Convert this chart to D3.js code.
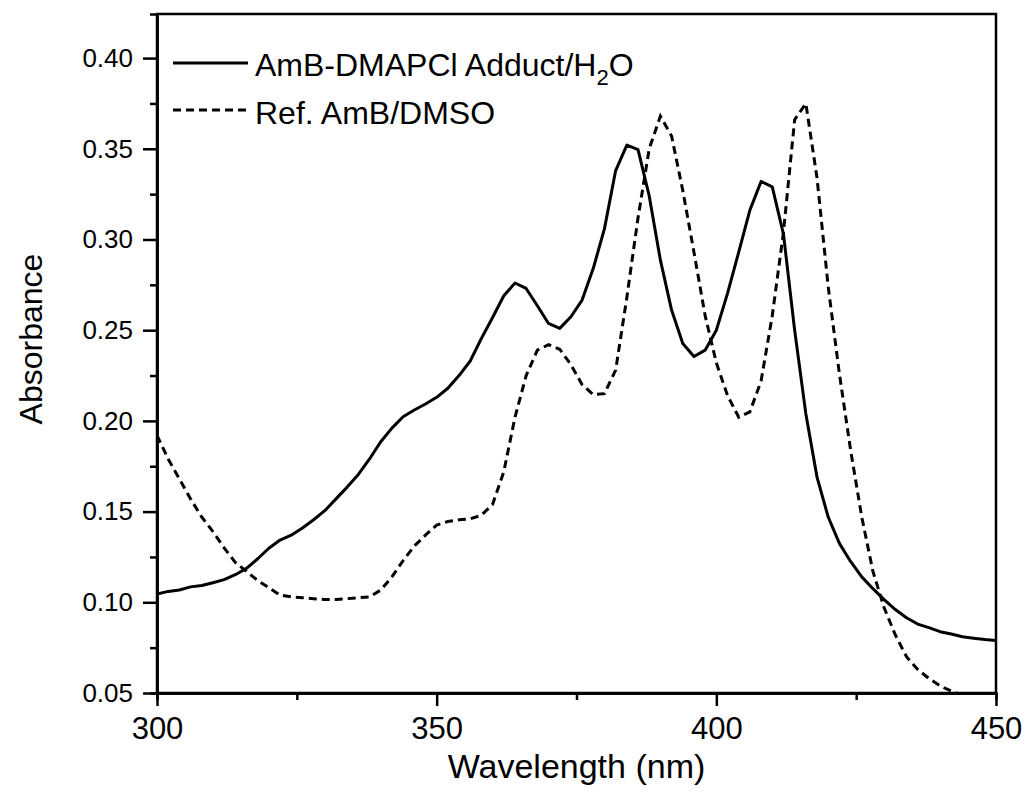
<!DOCTYPE html>
<html>
<head>
<meta charset="utf-8">
<script src="https://cdn.jsdelivr.net/npm/d3@7"></script>
<style>
  body { margin: 0; background: #fff; }
  text { font-family: Arial, "Liberation Sans", sans-serif; fill: #000; }
</style>
</head>
<body>
<svg id="chart"></svg>
<script>
// wavelength (nm), 2 nm steps
const wavelength = d3.range(300, 451, 2)

// AmB-DMAPCl adduct in water
const adduct = [
  0.1045, 0.1060, 0.1068, 0.1085, 0.1093, 0.1108, 0.1125, 0.1152, 0.1187, 0.1240,
  0.1298, 0.1343, 0.1370, 0.1410, 0.1455, 0.1505, 0.1570, 0.1635, 0.1705, 0.1790,
  0.1885, 0.1960, 0.2023, 0.2060, 0.2093, 0.2130, 0.2180, 0.2250, 0.2330, 0.2455,
  0.2570, 0.2690, 0.2760, 0.2730, 0.2635, 0.2537, 0.2510, 0.2574, 0.2666, 0.2841,
  0.3060, 0.3380, 0.3520, 0.3495, 0.3240, 0.2886, 0.2611, 0.2427, 0.2355, 0.2390,
  0.2500, 0.2703, 0.2930, 0.3162, 0.3320, 0.3290, 0.3030, 0.2500, 0.2040, 0.1690,
  0.1470, 0.1325, 0.1225, 0.1140, 0.1075, 0.1015, 0.0960, 0.0915, 0.0880, 0.0860,
  0.0838, 0.0825, 0.0810, 0.0802, 0.0795, 0.0790
]

// reference AmB in DMSO
const reference = [
  0.192, 0.179, 0.168, 0.157, 0.147, 0.139, 0.130, 0.122, 0.117, 0.112,
  0.108, 0.104, 0.103, 0.1025, 0.102, 0.1015, 0.1015, 0.102, 0.1025, 0.103,
  0.1067, 0.114, 0.123, 0.131, 0.137, 0.1426, 0.1445, 0.1455, 0.146, 0.148,
  0.154, 0.172, 0.202, 0.225, 0.239, 0.242, 0.2395, 0.231, 0.220, 0.2145,
  0.215, 0.228, 0.268, 0.312, 0.350, 0.368, 0.357, 0.327, 0.293, 0.258,
  0.232, 0.214, 0.202, 0.205, 0.222, 0.258, 0.304, 0.366, 0.375, 0.334,
  0.274, 0.226, 0.184, 0.147, 0.117, 0.097, 0.082, 0.070, 0.063, 0.058,
  0.054, 0.051, 0.049, 0.048, 0.047, 0.046
]

const xTicks = [300, 350, 400, 450]
const yTicks = [0.05, 0.10, 0.15, 0.20, 0.25, 0.30, 0.35, 0.40]

const width = 1028, height = 798
const margin = {top: 14, right: 32, bottom: 105, left: 157}

const svg = d3.select('#chart')
  .attr('width', width)
  .attr('height', height)

const iw = width - margin.left - margin.right
const ih = height - margin.top - margin.bottom

const chart = svg.append('g')
  .attr('transform', `translate(${margin.left},${margin.top})`)

const xscale = d3.scaleLinear().domain([300, 450]).range([0, iw])
const yscale = d3.scaleLinear().domain([0.05, 0.4243]).range([ih, 0])

chart.append('clipPath').attr('id', 'clip')
  .append('rect').attr('width', iw).attr('height', ih)

// minor ticks
const xMinor = d3.axisBottom(xscale).tickValues([325, 375, 425]).tickSize(7).tickFormat('')
const yMinor = d3.axisLeft(yscale).tickValues([0.075, 0.125, 0.175, 0.225, 0.275, 0.325, 0.375]).tickSize(7).tickFormat('')

chart.append('g').attr('class', 'axis').attr('transform', `translate(0,${ih})`).call(xMinor)
chart.append('g').attr('class', 'axis').call(yMinor)

const xaxis = d3.axisBottom(xscale).tickValues(xTicks).tickSize(13).tickPadding(11).tickSizeOuter(0)
const yaxis = d3.axisLeft(yscale).tickValues(yTicks).tickSize(14).tickPadding(10).tickSizeOuter(0)
  .tickFormat(d3.format('.2f'))

const xg = chart.append('g').attr('class', 'axis').attr('transform', `translate(0,${ih})`).call(xaxis)
xg.selectAll('text').attr('font-size', 31).attr('dy', '0.72em')

const yg = chart.append('g').attr('class', 'axis').call(yaxis)
yg.selectAll('text').attr('font-size', 26)

chart.selectAll('.axis path, .axis line').attr('stroke', '#000').attr('stroke-width', 2.5)
chart.selectAll('.axis text').attr('fill', '#000').attr('font-family', 'Arial, "Liberation Sans", sans-serif')

// frame top and right
chart.append('rect')
  .attr('width', iw).attr('height', ih)
  .attr('fill', 'none').attr('stroke', '#000').attr('stroke-width', 2.5)

const line = d3.line()
  .x((d, i) => xscale(wavelength[i]))
  .y(d => yscale(d))

const plot = chart.append('g').attr('clip-path', 'url(#clip)')

plot.append('path')
  .attr('d', line(adduct))
  .attr('fill', 'none').attr('stroke', '#000').attr('stroke-width', 3)
  .attr('stroke-linejoin', 'round')

plot.append('path')
  .attr('d', line(reference))
  .attr('fill', 'none').attr('stroke', '#000').attr('stroke-width', 3)
  .attr('stroke-dasharray', '8,5')

// legend
const legend = svg.append('g')
legend.append('line')
  .attr('x1', 173).attr('x2', 248).attr('y1', 63).attr('y2', 63)
  .attr('stroke', '#000').attr('stroke-width', 3)
legend.append('line')
  .attr('x1', 173).attr('x2', 248).attr('y1', 110).attr('y2', 110)
  .attr('stroke', '#000').attr('stroke-width', 3).attr('stroke-dasharray', '8,5')

const t1 = legend.append('text').attr('x', 255).attr('y', 76).attr('font-size', 32)
t1.append('tspan').text('AmB-DMAPCl Adduct/H')
t1.append('tspan').attr('dy', 9).attr('font-size', 22).text('2')
t1.append('tspan').attr('dy', -9).text('O')

legend.append('text').attr('x', 255).attr('y', 124).attr('font-size', 32)
  .text('Ref. AmB/DMSO')

// axis titles
svg.append('text')
  .attr('x', margin.left + iw / 2).attr('y', 778)
  .attr('text-anchor', 'middle').attr('font-size', 34)
  .text('Wavelength (nm)')

svg.append('text')
  .attr('transform', 'translate(42,339) rotate(-90)')
  .attr('text-anchor', 'middle').attr('font-size', 32)
  .text('Absorbance')
</script>
</body>
</html>
